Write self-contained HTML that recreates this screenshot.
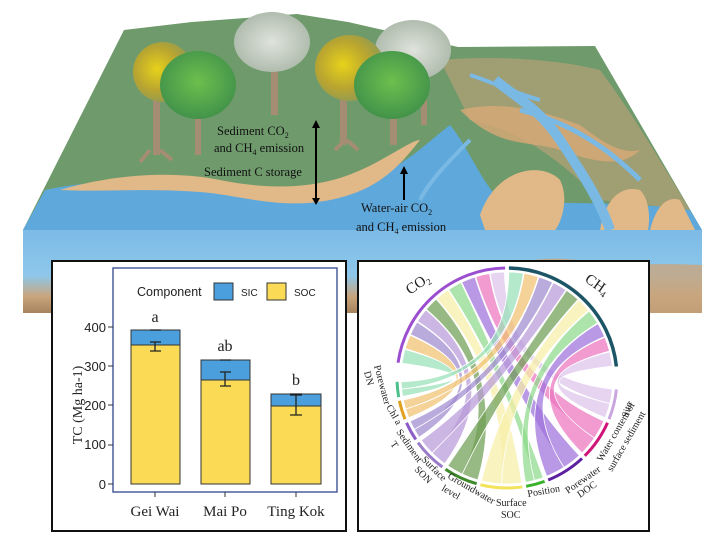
<!DOCTYPE html>
<html><head><meta charset="utf-8"><style>
html,body{margin:0;padding:0;background:#fff;}
svg{display:block;font-family:"Liberation Serif",serif;}
.sans{font-family:"Liberation Sans",sans-serif;}
</style></head><body>
<svg id="s" width="714" height="538" viewBox="0 0 714 538" xmlns="http://www.w3.org/2000/svg">
<defs>
<radialGradient id="yl" cx="0.4" cy="0.45" r="0.6"><stop offset="0" stop-color="#e6d21a"/><stop offset="0.6" stop-color="#b9a530"/><stop offset="1" stop-color="#8f9a55"/></radialGradient>
<radialGradient id="gr" cx="0.5" cy="0.45" r="0.6"><stop offset="0" stop-color="#6cbf4d"/><stop offset="1" stop-color="#3f8f4a"/></radialGradient>
<radialGradient id="gy" cx="0.5" cy="0.5" r="0.6"><stop offset="0" stop-color="#dfe3dc"/><stop offset="1" stop-color="#a7b5a5"/></radialGradient>
<linearGradient id="ff" x1="0" y1="0" x2="0" y2="1"><stop offset="0" stop-color="#7cbbe6"/><stop offset="0.55" stop-color="#8ec7ea"/><stop offset="0.8" stop-color="#c9a57d"/><stop offset="1" stop-color="#a7825c"/></linearGradient>
</defs>
<rect x="23" y="230" width="679" height="83" fill="url(#ff)"/>
<path d="M430,313 C470,270 530,250 590,262 C610,268 640,262 702,265 L702,313 Z" fill="#c9a57d" opacity="0.8"/>
<path d="M23,230 L124,30 L192,22 L297,14 L348,22 L458,47 L595,46 L702,230 Z" fill="#6f9a6c"/>
<!-- right side tan/green mix -->
<path d="M440,60 C500,55 560,60 600,70 C630,110 660,160 690,210 L600,200 C560,160 520,130 470,120 Z" fill="#c9a27a" opacity="0.55"/>
<path d="M23,230 L45,190 C90,180 150,178 200,190 C260,204 320,200 370,180 C410,162 430,140 450,125 C470,150 480,180 500,200 C540,205 620,200 690,210 L702,230 Z" fill="#5ea8dc"/>
<path d="M60,190 C110,175 170,170 220,180 C260,188 300,190 340,178 C380,165 410,140 420,140 C400,165 380,190 330,200 C280,210 240,195 200,192 C150,188 100,192 60,190 Z" fill="#e1b887"/>
<path d="M480,215 C495,170 540,160 560,180 C570,200 560,225 555,230 L485,230 Z" fill="#e1b887"/>
<path d="M600,230 C605,200 620,185 640,190 C650,200 650,220 648,230 Z" fill="#e1b887"/>
<path d="M650,230 C655,210 665,195 680,200 L695,230 Z" fill="#e1b887"/>
<path d="M460,110 C500,100 540,110 580,125 C600,140 620,155 640,150 C620,170 590,160 560,150 C530,140 500,150 460,110 Z" fill="#d9a978" opacity="0.8"/>
<path d="M495,80 C520,100 540,110 560,140 C580,170 600,200 610,230" stroke="#79b9e4" stroke-width="10" fill="none"/>
<path d="M470,140 C450,160 430,180 420,200" stroke="#79b9e4" stroke-width="4" fill="none"/>
<path d="M520,110 C560,120 600,140 640,180" stroke="#79b9e4" stroke-width="5" fill="none"/>
<path d="M470,75 C500,85 520,95 540,100" stroke="#79b9e4" stroke-width="4" fill="none"/>
<g>
<rect x="153" y="95" width="7" height="60" fill="#a58d73"/><rect x="195" y="100" width="6" height="55" fill="#a58d73"/>
<rect x="271" y="55" width="7" height="60" fill="#a58d73"/><rect x="340" y="85" width="7" height="60" fill="#a58d73"/>
<rect x="390" y="85" width="7" height="60" fill="#a58d73"/><rect x="421" y="70" width="6" height="55" fill="#a58d73"/>
<path d="M150,150 L140,162 M160,150 L172,160 M345,140 L335,150 M347,140 L358,150" stroke="#a58d73" stroke-width="4"/>
<ellipse cx="163" cy="72" rx="30" ry="30" fill="url(#yl)"/>
<ellipse cx="272" cy="42" rx="38" ry="30" fill="url(#gy)"/>
<ellipse cx="413" cy="50" rx="38" ry="30" fill="url(#gy)"/>
<ellipse cx="350" cy="68" rx="35" ry="33" fill="url(#yl)"/>
<ellipse cx="198" cy="85" rx="38" ry="34" fill="url(#gr)"/>
<ellipse cx="392" cy="85" rx="38" ry="34" fill="url(#gr)"/>
</g>
<g stroke="#000" stroke-width="2"><line x1="316" y1="126" x2="316" y2="202"/><line x1="404" y1="172" x2="404" y2="200"/></g>
<g fill="#000"><path d="M312,128 L316,120 L320,128Z"/><path d="M312,198 L316,205 L320,198Z"/><path d="M400,174 L404,166 L408,174Z"/></g>
<g font-size="12.5" fill="#111">
<text x="217" y="135">Sediment CO<tspan font-size="8" dy="3">2</tspan></text>
<text x="214" y="152">and CH<tspan font-size="8" dy="3">4</tspan><tspan dy="-3"> emission</tspan></text>
<text x="204" y="176">Sediment C storage</text>
<text x="361" y="212">Water-air CO<tspan font-size="8" dy="3">2</tspan></text>
<text x="356" y="231">and CH<tspan font-size="8" dy="3">4</tspan><tspan dy="-3"> emission</tspan></text>
</g>

<rect x="52" y="261" width="294" height="270" fill="#fff" stroke="#111" stroke-width="2"/>
<rect x="113" y="268" width="224" height="224" fill="#fff" stroke="#4a5e9c" stroke-width="1.5"/>
<g class="sans" font-size="12.5" fill="#222">
<text x="137" y="296">Component</text>
<rect x="214" y="283" width="19" height="17" fill="#4a9fdc" stroke="#333"/>
<text x="241" y="296" font-size="10">SIC</text>
<rect x="267" y="283" width="19" height="17" fill="#fbdb55" stroke="#333"/>
<text x="294" y="296" font-size="10">SOC</text>
</g>
<g class="sans" font-size="13" fill="#222" text-anchor="end">
<text x="106" y="332">400</text><text x="106" y="371">300</text><text x="106" y="410">200</text><text x="106" y="449">100</text><text x="106" y="489">0</text>
</g>
<g stroke="#333"><line x1="108" y1="327" x2="113" y2="327"/><line x1="108" y1="366" x2="113" y2="366"/><line x1="108" y1="405" x2="113" y2="405"/><line x1="108" y1="445" x2="113" y2="445"/><line x1="108" y1="484" x2="113" y2="484"/>
<line x1="155" y1="492" x2="155" y2="497"/><line x1="225" y1="492" x2="225" y2="497"/><line x1="296" y1="492" x2="296" y2="497"/></g>
<text transform="translate(82,405) rotate(-90)" text-anchor="middle" font-size="14" fill="#222">TC (Mg ha-1)</text>
<g stroke="#333" stroke-width="1">
<rect x="131" y="330" width="49" height="15" fill="#4a9fdc"/><rect x="131" y="345" width="49" height="139" fill="#fbdb55"/>
<rect x="201" y="360" width="49" height="20" fill="#4a9fdc"/><rect x="201" y="380" width="49" height="104" fill="#fbdb55"/>
<rect x="271" y="394" width="50" height="12" fill="#4a9fdc"/><rect x="271" y="406" width="50" height="78" fill="#fbdb55"/>
</g>
<g stroke="#222" stroke-width="1.3" fill="none">
<path d="M150,330 H161"/><path d="M150,342 H161 M155,342 V351 M150,351 H161"/>
<path d="M220,360 H231"/><path d="M220,372 H231 M225,372 V386 M220,386 H231"/>
<path d="M290,394 H302"/><path d="M290,395 H302 M296,395 V415 M290,415 H302"/>
</g>
<g font-size="16" fill="#222" text-anchor="middle">
<text x="155" y="322">a</text><text x="225" y="351">ab</text><text x="296" y="385">b</text>
</g>
<g font-size="15" fill="#222" text-anchor="middle">
<text x="155" y="516">Gei Wai</text><text x="225" y="516">Mai Po</text><text x="296" y="516">Ting Kok</text>
</g>

<rect x="358" y="261" width="291" height="270" fill="#fff" stroke="#111" stroke-width="2"/>
<g id="chord"></g>
<g font-size="10" fill="#222">
<text x="410" y="295" font-size="15" transform="rotate(-35 410 295)">CO<tspan font-size="9" dy="3">2</tspan></text>
<text x="584" y="281" font-size="15" transform="rotate(35 584 281)">CH<tspan font-size="9" dy="3">4</tspan></text>
<text x="374" y="366" transform="rotate(75 374 366)">Porewater</text>
<text x="364" y="372" transform="rotate(75 364 372)">DN</text>
<text x="386" y="407" transform="rotate(60 386 407)">Chl a</text>
<text x="396" y="432" transform="rotate(55 396 432)">Sediment</text>
<text x="390" y="444" transform="rotate(55 390 444)">T</text>
<text x="421" y="460" transform="rotate(45 421 460)">Surface</text>
<text x="414" y="470" transform="rotate(45 414 470)">SON</text>
<text x="447" y="478" transform="rotate(30 447 478)">Groundwater</text>
<text x="441" y="490" transform="rotate(30 441 490)">level</text>
<text x="496" y="506">Surface</text><text x="501" y="518">SOC</text>
<text x="528" y="497" transform="rotate(-10 528 497)">Position</text>
<text x="568" y="494" transform="rotate(-35 568 494)">Porewater</text>
<text x="580" y="498" transform="rotate(-35 580 498)">DOC</text>
<text x="602" y="462" transform="rotate(-60 602 462)">Water content of</text>
<text x="612" y="472" transform="rotate(-60 612 472)">surface sediment</text>
<text x="628" y="418" transform="rotate(-75 628 418)">Site</text>
</g>
</svg>
<script>
(function(){
var cx=507,cy=378,r=106,NS="http://www.w3.org/2000/svg",g=document.getElementById("chord");
function P(a,rr){var t=(a-90)*Math.PI/180;return [cx+rr*Math.cos(t),cy+rr*Math.sin(t)];}
function arc(a1,a2,col,w){var p1=P(a1,r+4),p2=P(a2,r+4);var e=document.createElementNS(NS,"path");
e.setAttribute("d","M"+p1+" A"+(r+4)+","+(r+4)+" 0 "+((a2-a1)>180?1:0)+" 1 "+p2);e.setAttribute("stroke",col);e.setAttribute("stroke-width",w);e.setAttribute("fill","none");g.appendChild(e);}
function rib(a1,a2,b1,b2,col){var p1=P(a1,r),p2=P(a2,r),q1=P(b1,r),q2=P(b2,r);
var d="M"+p1+" A"+r+","+r+" 0 0 1 "+p2+" Q"+cx+","+cy+" "+q1+" A"+r+","+r+" 0 0 1 "+q2+" Q"+cx+","+cy+" "+p1+"Z";
var e=document.createElementNS(NS,"path");e.setAttribute("d",d);e.setAttribute("fill",col);e.setAttribute("fill-opacity","0.72");e.setAttribute("stroke","#fff");e.setAttribute("stroke-width","0.8");g.appendChild(e);}
arc(-82,-1,"#9b4fd0",3);arc(1,84,"#1c5566",3.5);
var segs=[[96,112],[114,135],[137,158],[160,170],[172,194],[196,214],[216,234],[236,246],[248,258],[260,268]];
var sc=["#c9a6e0","#d0157a","#5b1fa0","#39b12a","#f2e35a","#3f8a2a","#9a7cc8","#8c5cc8","#e0a020","#4cc08a"];
var fc=["#dcc4ec","#ec74bf","#9e72dc","#8ed98a","#f7efa8","#6f9e55","#b89ad8","#a08ad0","#f0c070","#98e0b8"];
segs.forEach(function(s,i){arc(s[0],s[1],sc[i],3);});
var n=segs.length,step1=81/n,step2=83/n;
for(var i=0;i<n;i++){
 var s=segs[n-1-i],m=(s[0]+s[1])/2,c=fc[n-1-i];
 rib(-82+i*step1,-82+(i+1)*step1-0.4,s[0],m,c);
}
for(var i=0;i<n;i++){
 var s=segs[n-1-i],m=(s[0]+s[1])/2,c=fc[n-1-i];
 rib(1+i*step2,1+(i+1)*step2-0.4,m,s[1],c);
}
})();
</script>
</body></html>
